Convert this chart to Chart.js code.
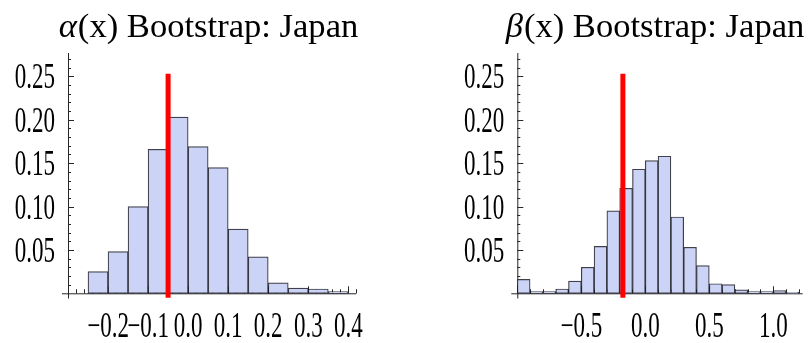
<!DOCTYPE html>
<html>
<head>
<meta charset="utf-8">
<script src="https://cdn.jsdelivr.net/npm/chart.js@4.4.0/dist/chart.umd.min.js"></script>
<style>
  html, body { margin: 0; padding: 0; background: #fff; }
  #wrap { position: relative; width: 811px; height: 343px; overflow: hidden; }
  canvas { position: absolute; top: 0; }
  #alphaChart { left: 0; }
  #betaChart { left: 406px; }
</style>
</head>
<body>
<div id="wrap">
  <canvas id="alphaChart" width="405" height="343"></canvas>
  <canvas id="betaChart" width="405" height="343"></canvas>
</div>
<script>
// alpha(x) bootstrap histogram
const alphaBinStarts = [-0.25, -0.2, -0.15, -0.1, -0.05, 0, 0.05, 0.1, 0.15, 0.2, 0.25, 0.3, 0.35];
const alphaFreq = [0.025, 0.048, 0.100, 0.166, 0.203, 0.169, 0.145, 0.074, 0.042, 0.012, 0.006, 0.005, 0.002];
const alphaBinWidth = 0.05;
const alphaEstimate = -0.05;
const alphaXTicks = [-0.2, -0.1, 0.0, 0.1, 0.2, 0.3, 0.4];

// beta(x) bootstrap histogram
const betaBinStarts = [-1.0, -0.9, -0.8, -0.7, -0.6, -0.5, -0.4, -0.3, -0.2, -0.1, 0, 0.1, 0.2, 0.3, 0.4, 0.5, 0.6, 0.7, 0.8, 0.9, 1.0, 1.1];
const betaFreq = [0.016, 0.002, 0.002, 0.005, 0.014, 0.030, 0.054, 0.095, 0.121, 0.143, 0.153, 0.158, 0.088, 0.053, 0.032, 0.011, 0.010, 0.004, 0.002, 0.002, 0.003, 0.001];
const betaBinWidth = 0.1;
const betaEstimate = -0.175;
const betaXTicks = [-0.5, 0.0, 0.5, 1.0];

const yTicks = [0.05, 0.10, 0.15, 0.20, 0.25];

const SERIF = "'Liberation Serif', 'DejaVu Serif', serif";
const AXIS_COLOR = "#262626";
const LABEL_FONT = "23px " + SERIF;
const LABEL_STRETCH = 1.55;

function fmt(v, digits) {
  const s = Math.abs(v).toFixed(digits);
  return (v < -1e-9 ? "\u2212" : "") + s;
}

function drawStretched(ctx, text, x, y, sy, align) {
  ctx.save();
  ctx.translate(x, y);
  ctx.scale(1, sy);
  ctx.textAlign = align;
  ctx.textBaseline = "alphabetic";
  ctx.fillText(text, 0, 0);
  ctx.restore();
}

function mmaFrame(opts) {
  return {
    id: "mmaFrame",
    beforeDatasetsDraw(chart) {
      const { ctx, scales: { x, y } } = chart;
      const y0 = y.getPixelForValue(0);
      const xAxis = x.getPixelForValue(opts.xMin);
      ctx.save();
      ctx.strokeStyle = AXIS_COLOR;
      ctx.lineWidth = 1;
      ctx.beginPath();
      ctx.moveTo(xAxis - 6, y0 + 0.5);
      ctx.lineTo(x.right, y0 + 0.5);
      ctx.moveTo(xAxis + 0.5, y.getPixelForValue(y.min));
      ctx.lineTo(xAxis + 0.5, y.top);
      ctx.stroke();

      // x ticks point up into the plot
      ctx.beginPath();
      const k0 = Math.ceil(opts.xMin / opts.xMinor - 1e-6);
      for (let k = k0; k * opts.xMinor <= opts.xMax + 1e-9; k++) {
        const v = k * opts.xMinor;
        const isMajor = Math.abs(v / opts.xMajor - Math.round(v / opts.xMajor)) < 1e-6;
        const px = Math.round(x.getPixelForValue(v)) + 0.5;
        ctx.moveTo(px, y0);
        ctx.lineTo(px, y0 - (isMajor ? 7 : 4));
      }
      // y ticks point right
      for (let k = 1; k * 0.01 <= y.max + 1e-9; k++) {
        const v = k * 0.01;
        const isMajor = k % 5 === 0;
        const py = Math.round(y.getPixelForValue(v)) + 0.5;
        ctx.moveTo(xAxis, py);
        ctx.lineTo(xAxis + (isMajor ? 6 : 3), py);
      }
      ctx.stroke();
      ctx.restore();
    },
    afterDraw(chart) {
      const { ctx, scales: { x, y } } = chart;
      const xAxis = x.getPixelForValue(opts.xMin);
      ctx.save();
      ctx.fillStyle = "#000";
      ctx.font = LABEL_FONT;
      yTicks.forEach(v => {
        drawStretched(ctx, v.toFixed(2), xAxis - 13, y.getPixelForValue(v) + 12, LABEL_STRETCH, "right");
      });
      opts.xTicks.forEach(v => {
        drawStretched(ctx, fmt(v, 1), x.getPixelForValue(v), 337, LABEL_STRETCH, "center");
      });

      // title: italic symbol + roman text
      const sym = opts.titleSymbol;
      const rest = "(x) Bootstrap: Japan";
      ctx.font = "italic 34.6px " + SERIF;
      const w1 = ctx.measureText(sym).width;
      ctx.font = "34.6px " + SERIF;
      const w2 = ctx.measureText(rest).width;
      const tx = opts.titleCenter - (w1 + w2) / 2;
      ctx.textAlign = "left";
      ctx.textBaseline = "alphabetic";
      ctx.font = "italic 34.6px " + SERIF;
      ctx.fillText(sym, tx, 37);
      ctx.font = "34.6px " + SERIF;
      ctx.fillText(rest, tx + w1 + 1, 37);
      ctx.restore();
    }
  };
}

function histogramChart(canvasId, opts) {
  const bars = opts.starts.map((s, i) => ({ x: s + opts.binWidth / 2, y: opts.freq[i] }));
  return new Chart(document.getElementById(canvasId), {
    type: "bar",
    data: {
      datasets: [
        {
          type: "line",
          data: [{ x: opts.estimate, y: -0.005 }, { x: opts.estimate, y: 0.253 }],
          borderColor: "#ff0000",
          borderWidth: 5,
          borderCapStyle: "butt",
          pointRadius: 0,
          order: 0,
        },
        {
          data: bars,
          backgroundColor: "#cbd3f6",
          borderColor: "rgba(30,30,42,0.85)",
          borderWidth: 1.2,
          borderSkipped: false,
          barPercentage: 1,
          categoryPercentage: 1,
          grouped: false,
          order: 1,
        },
      ],
    },
    options: {
      responsive: false,
      animation: false,
      devicePixelRatio: 1,
      layout: { padding: opts.padding },
      plugins: {
        legend: { display: false },
        tooltip: { enabled: false },
      },
      scales: {
        x: { type: "linear", min: opts.xMin, max: opts.xMax, offset: false, display: false },
        y: { min: -0.006, max: 0.277, display: false },
      },
    },
    plugins: [mmaFrame(opts)],
  });
}

histogramChart("alphaChart", {
  starts: alphaBinStarts,
  freq: alphaFreq,
  binWidth: alphaBinWidth,
  estimate: alphaEstimate,
  xTicks: alphaXTicks,
  xMin: -0.3,
  xMax: 0.42,
  xMajor: 0.1,
  xMinor: 0.02,
  titleSymbol: "\u03B1",
  titleCenter: 208,
  padding: { left: 68, right: 48.7, top: 53, bottom: 44.5 },
});

histogramChart("betaChart", {
  starts: betaBinStarts,
  freq: betaFreq,
  binWidth: betaBinWidth,
  estimate: betaEstimate,
  xTicks: betaXTicks,
  xMin: -1.0,
  xMax: 1.23,
  xMajor: 0.5,
  xMinor: 0.1,
  titleSymbol: "\u03B2",
  titleCenter: 248.5,
  padding: { left: 111.3, right: 8.3, top: 53, bottom: 44.5 },
});
</script>
</body>
</html>
